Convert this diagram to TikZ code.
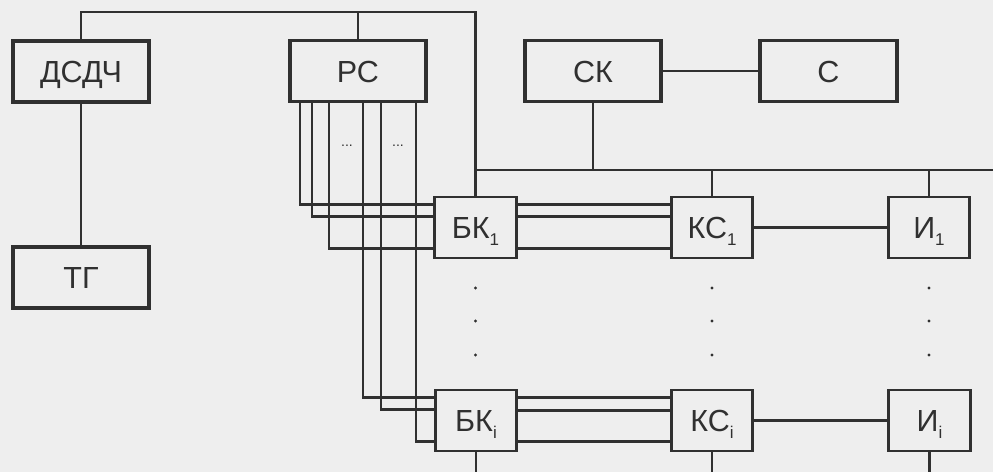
\documentclass[tikz,border=0pt]{standalone}
\usepackage{fontspec}
\setmainfont{Liberation Sans}
\definecolor{ink}{RGB}{48,48,48}
\definecolor{paper}{RGB}{238,238,238}
\newcommand\lowidx[1]{\raisebox{-0.22em}{\fontsize{17}{17}\selectfont #1}}
\begin{document}
\begin{tikzpicture}[x=1pt,y=-1pt,
  lbl/.style={font=\fontsize{30.5}{31}\selectfont, text=ink, text height=22pt, text depth=0pt, inner sep=0pt},
  bigbox/.style={lbl, draw=ink, line width=3.8pt, minimum width=136.5pt, minimum height=61pt},
  smallbox/.style={lbl, draw=ink, line width=2.7pt, minimum width=81.5pt, minimum height=61pt},
  wire/.style={draw=ink, line width=2.3pt},
  dotm/.style={fill=ink},
  ell/.style={font=\fontsize{14}{14}\selectfont, text=ink, inner sep=0pt}]
\useasboundingbox (0,0) rectangle (993,472);
\fill[paper] (0,0) rectangle (993,472);

% top row
\node[bigbox] (dsdch) at (81,71.5) {ДСДЧ};
\node[bigbox] (pc) at (358,71) {РС};
\node[bigbox] (ck) at (593,71) {СК};
\node[bigbox] (c) at (828.5,71) {С};
\node[bigbox] (tg) at (81,277.5) {ТГ};

% channel 1
\node[smallbox] (bk1) at (475.5,227.5) {БК\lowidx{1}};
\node[smallbox] (kc1) at (712,227.5) {КС\lowidx{1}};
\node[smallbox] (i1) at (929,227.5) {И\lowidx{1}};

% channel i
\node[smallbox] (bki) at (476,420.5) {БК\lowidx{i}};
\node[smallbox] (kci) at (712,420.5) {КС\lowidx{i}};
\node[smallbox] (ii) at (929.5,420.5) {И\lowidx{i}};

% helper coordinates
\coordinate (top) at (0,12);
\coordinate (bus) at (0,170);
\coordinate (busR) at (993,170);
\coordinate (bot) at (0,472);

% top line
\draw[wire] (dsdch.north) |- (bk1.north |- top) -- (bk1.north);
\draw[wire] (pc.north) -- (pc.north |- top);
\draw[wire] (dsdch.south) -- (tg.north);
\draw[wire] (ck.east) -- (c.west);

% bus
\draw[wire] (bk1.north |- bus) -- (busR);
\draw[wire] (ck.south) -- (ck.south |- bus);
\draw[wire] (kc1.north) -- (kc1.north |- bus);
\draw[wire] (i1.north) -- (i1.north |- bus);

% PC to BK1
\draw[wire] (pc.south -| 300,0) |- ([yshift=23pt]bk1.west);
\draw[wire] (pc.south -| 312,0) |- ([yshift=11pt]bk1.west);
\draw[wire] (pc.south -| 329,0) |- ([yshift=-21pt]bk1.west);
% PC to BKi
\draw[wire] (pc.south -| 363,0) |- ([yshift=23pt]bki.west);
\draw[wire] (pc.south -| 381,0) |- ([yshift=11pt]bki.west);
\draw[wire] (pc.south -| 416,0) |- ([yshift=-21pt]bki.west);

\node[ell] (e1) at (347,146) {...};
\node[ell] (e2) at (398,146) {...};

% BK1 to KC1, KC1 to I1
\draw[wire] ([yshift=23pt]bk1.east) -- ([yshift=23pt]bk1.east -| kc1.west);
\draw[wire] ([yshift=11pt]bk1.east) -- ([yshift=11pt]bk1.east -| kc1.west);
\draw[wire] ([yshift=-21pt]bk1.east) -- ([yshift=-21pt]bk1.east -| kc1.west);
\draw[wire] (kc1.east) -- (i1.west);

% BKi to KCi, KCi to Ii
\draw[wire] ([yshift=23pt]bki.east) -- ([yshift=23pt]bki.east -| kci.west);
\draw[wire] ([yshift=10pt]bki.east) -- ([yshift=10pt]bki.east -| kci.west);
\draw[wire] ([yshift=-21pt]bki.east) -- ([yshift=-21pt]bki.east -| kci.west);
\draw[wire] (kci.east) -- (ii.west);

% down to bottom edge
\draw[wire] (bki.south) -- (bki.south |- bot);
\draw[wire] (kci.south) -- (kci.south |- bot);
\draw[wire] (ii.south) -- (ii.south |- bot);

% vertical ellipses
\foreach \n in {bk1,kc1,i1}{
  \foreach \yy in {288,321,355}{
    \fill[dotm] (\n.south |- 0,\yy) circle (1.6pt);
  }
}
\end{tikzpicture}
\end{document}
